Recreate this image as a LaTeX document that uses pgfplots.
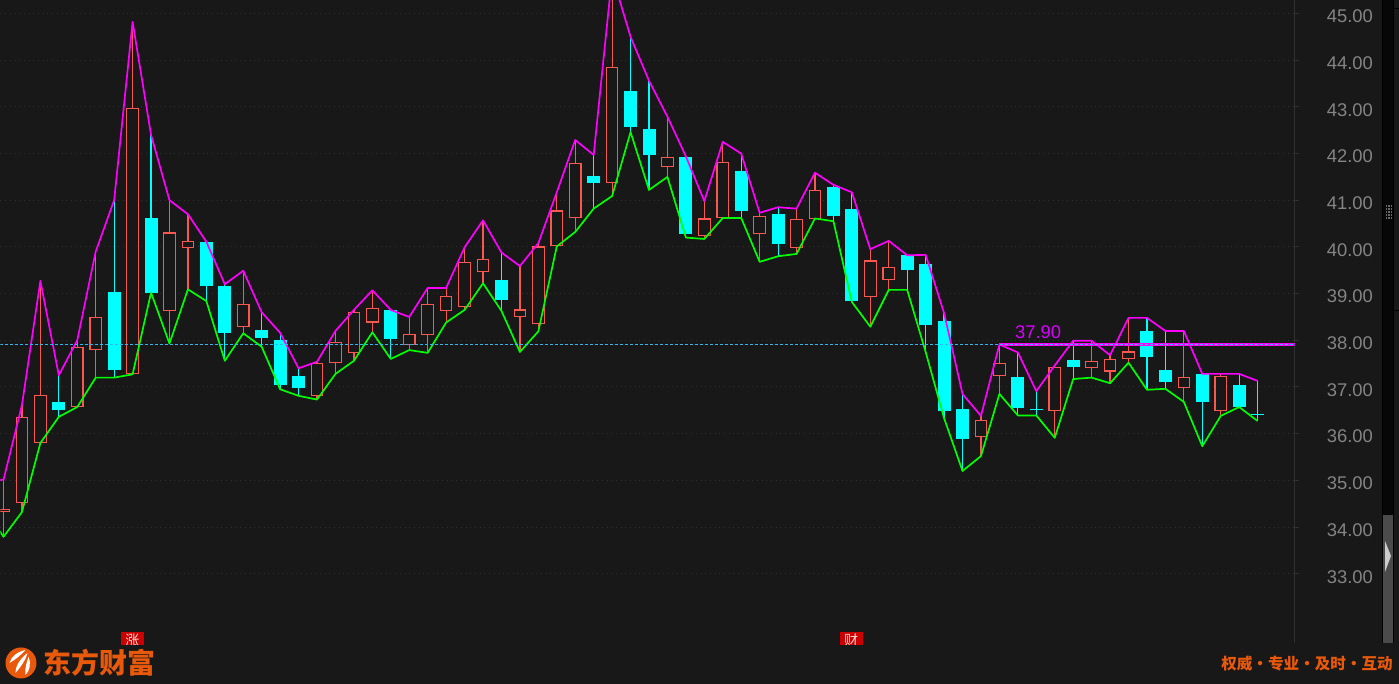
\documentclass[border=0pt]{standalone}
\usepackage{pgfplots}
\usepackage{pgfplotstable}
\usepackage{fontspec}
\pgfplotsset{compat=1.18}
\setmainfont{Liberation Sans}
\newfontfamily\cjk{Noto Sans CJK SC}

\definecolor{bg}{HTML}{181818}
\definecolor{redc}{HTML}{F8584F}
\definecolor{dashc}{HTML}{2FB8F0}
\definecolor{gridc}{HTML}{303030}
\definecolor{labelc}{HTML}{848484}
\definecolor{brand}{HTML}{E9590C}
\definecolor{cyanc}{HTML}{00FFFF}
\definecolor{magc}{HTML}{FF00FF}
\definecolor{greenc}{HTML}{00FF00}

% i, high, low, body top, body bottom, up (1 = hollow red, 0 = filled cyan, 2 = lines only)
\pgfplotstableread{
i high low top bot up
-1 35.00 34.40 0 0 2
0 35.01 33.79 34.39 34.32 1
1 36.61 34.32 36.36 34.51 1
2 39.27 35.80 36.83 35.80 1
3 37.25 36.36 36.68 36.50 0
4 38.00 36.57 37.85 36.56 1
5 39.90 37.20 38.49 37.80 1
6 41.00 37.20 39.03 37.37 0
7 44.82 37.27 42.97 37.27 1
8 42.40 39.02 40.62 39.02 0
9 41.00 37.93 40.31 38.62 1
10 40.70 39.09 40.12 39.97 1
11 40.11 38.84 40.10 39.17 0
12 39.20 37.56 39.16 38.16 0
13 39.49 38.15 38.77 38.28 1
14 38.60 37.86 38.22 38.05 0
15 38.16 36.95 38.00 37.04 0
16 37.40 36.81 37.23 36.98 0
17 37.54 36.73 37.51 36.81 1
18 38.20 37.28 37.96 37.51 1
19 38.65 37.56 38.60 37.72 1
20 39.07 38.17 38.70 38.38 1
21 38.65 37.60 38.65 38.03 0
22 38.50 37.79 38.13 37.89 1
23 39.12 37.73 38.77 38.12 1
24 39.12 38.38 38.94 38.63 1
25 39.99 38.65 39.67 38.72 1
26 40.57 39.22 39.75 39.47 1
27 39.88 38.63 39.29 38.86 0
28 39.59 37.75 38.66 38.50 1
29 40.08 38.19 40.01 38.34 1
30 41.17 40.01 40.78 40.01 1
31 42.29 40.32 41.79 40.61 1
32 41.97 40.82 41.52 41.37 0
33 45.82 41.09 43.86 41.36 1
34 44.50 42.46 43.34 42.57 0
35 43.56 41.22 42.52 41.97 0
36 42.79 41.50 41.92 41.72 1
37 41.94 40.20 41.92 40.28 0
38 40.98 40.17 40.61 40.24 1
39 42.25 40.62 41.81 40.61 1
40 42.00 40.62 41.62 40.77 0
41 40.73 39.68 40.67 40.27 1
42 40.85 39.80 40.70 40.07 0
43 40.82 39.85 40.59 39.98 1
44 41.59 40.61 41.21 40.60 1
45 41.33 40.55 41.28 40.66 0
46 41.17 38.82 40.81 38.85 0
47 39.95 38.29 39.71 38.93 1
48 40.13 39.08 39.58 39.30 1
49 39.82 39.08 39.82 39.51 0
50 39.83 37.75 39.63 38.33 0
51 38.58 36.33 38.41 36.49 0
52 36.85 35.20 36.53 35.89 0
53 36.38 35.52 36.29 35.92 1
54 37.91 36.85 37.51 37.23 1
55 37.74 36.39 37.21 36.55 0
56 36.91 36.39 36.52 36.50 0
57 37.46 35.91 37.42 36.49 1
58 37.99 37.17 37.58 37.43 0
59 37.99 37.20 37.55 37.41 1
60 37.68 37.08 37.59 37.33 1
61 38.48 37.52 37.76 37.60 1
62 38.48 36.94 38.20 37.65 0
63 38.20 36.96 37.36 37.11 0
64 38.20 36.68 37.21 36.98 1
65 37.28 35.73 37.28 36.68 0
66 37.28 36.38 37.23 36.48 1
67 37.28 36.57 37.04 36.57 0
68 37.13 36.27 36.42 36.40 0
}\kline

\pgfplotsset{
  errbar/.style 2 args={draw=none, mark=none, forget plot,
    error bars/.cd, y dir=plus, y explicit, error mark=none,
    error bar style={draw=#1, line width=#2, solid}},
}

\begin{document}
\begin{tikzpicture}
\begin{scope}[x=1pt,y=-1pt,yshift=684pt]
  \fill[bg] (0,0) rectangle (1399,684);
  \useasboundingbox (0,0) rectangle (1399,684);
\end{scope}

\begin{axis}[
    at={(0pt,41pt)}, anchor=south west,
    scale only axis, width=1294.5pt, height=643pt,
    xmin=-0.1626, xmax=70.0,
    ymin=31.516, ymax=45.285,
    axis x line=none,
    axis y line*=right,
    axis line style={draw=gridc, -},
    xtick=\empty,
    ytick={33,34,35,36,37,38,39,40,41,42,43,44,45},
    ymajorgrids,
    major grid style={draw=gridc, line width=1pt, dash pattern=on 1pt off 3.7pt},
    tick align=outside, major tick length=4pt,
    tick style={draw=gridc, line width=1pt},
    yticklabel style={anchor=east, xshift=78pt, yshift=-3pt, text=labelc,
      font=\fontsize{18.4}{22}\selectfont},
    /pgf/number format/.cd, fixed, fixed zerofill, precision=2, assume math mode=true,
  ]

% wicks
\addplot[errbar={redc}{1.2pt}] table[x=i, y expr={\thisrow{up}==1 ? \thisrow{low} : nan},
    y error plus expr=\thisrow{high}-\thisrow{low}] {\kline};
\addplot[errbar={cyanc}{1.2pt}] table[x=i, y expr={\thisrow{up}==0 ? \thisrow{low} : nan},
    y error plus expr=\thisrow{high}-\thisrow{low}] {\kline};

% bodies: hollow ones are a red bar with a background bar inside it
\addplot[errbar={redc}{12.6pt}] table[x=i, y expr={\thisrow{up}==1 ? \thisrow{bot} : nan},
    y error plus expr=\thisrow{top}-\thisrow{bot}] {\kline};
\addplot[errbar={bg}{10.4pt}] table[x=i, y expr={\thisrow{up}==1 ? \thisrow{bot}+0.023 : nan},
    y error plus expr=\thisrow{top}-\thisrow{bot}-0.046] {\kline};
\addplot[errbar={cyanc}{13pt}] table[x=i, y expr={\thisrow{up}==0 ? \thisrow{bot} : nan},
    y error plus expr=\thisrow{top}-\thisrow{bot}] {\kline};

% channel lines
\addplot[draw=magc, line width=1.7pt, mark=none, line join=round, forget plot]
    table[x=i, y=high] {\kline};
\addplot[draw=greenc, line width=1.7pt, mark=none, line join=round, forget plot]
    table[x=i, y=low] {\kline};

% 37.90 level
\addplot[draw=magc, line width=3pt, mark=none] coordinates {(54,37.90) (70,37.90)};
\addplot[draw=dashc, line width=1pt, dash pattern=on 3pt off 2pt, mark=none]
    coordinates {(-0.1626,37.90) (70,37.90)};

\node[text=magc!85!blue, font=\fontsize{18.4}{22}\selectfont, anchor=south]
    at (axis cs:56.1,37.95) {37.90};
\end{axis}

\begin{scope}[x=1pt,y=-1pt,yshift=684pt]
  % event badges cut off by the footer
  \begin{scope}
    \clip (0,632) rectangle (1399,644.5);
    \fill[red!80!black] (121,632) rectangle (143.5,646);
    \fill[red!80!black] (840,632) rectangle (862.5,646);
    \node[text=white!85!red, font=\cjk\fontsize{14}{16}\selectfont] at (132,640) {涨};
    \node[text=white!85!red, font=\cjk\fontsize{14}{16}\selectfont] at (851,640) {财};
  \end{scope}
  % scrollbar strip
  \fill[black!70!bg] (1382,0) rectangle (1394,643);
  \fill[black] (1382,0) rectangle (1383,643);
  \fill[black] (1393,0) rectangle (1394,643);
  \fill[black] (1394,8) rectangle (1399,9);
  \fill[black] (1394,310) rectangle (1399,311);
  \fill[white!22!bg] (1383,515) rectangle (1393,643);
  \fill[white!80!black] (1385,541) -- (1391,556) -- (1385,572) -- cycle;
  \foreach \gy in {205,208,211,214,217}
    \foreach \gx in {1385.5,1388,1390.5}
      \fill[white!35!bg] (\gx,\gy) rectangle +(1.5,1.5);
  % footer
  \fill[brand] (20.5,663) circle (15.5);
  \fill[white] (25,650) .. controls (17,652) and (11,656) .. (9,663)
      .. controls (14,660) and (20,656) .. cycle;
  \fill[white] (27,653) .. controls (22,657) and (15,664) .. (15,673)
      .. controls (20,667) and (25,661) .. cycle;
  \fill[white] (28,657) .. controls (26,663) and (24,669) .. (25,675)
      .. controls (29,671) and (31,664) .. cycle;
  \node[text=brand, font=\cjk\bfseries\fontsize{28}{30}\selectfont, anchor=center]
      at (99,663) {东方财富};
  \node[text=brand, font=\cjk\bfseries\fontsize{15.6}{18}\selectfont, anchor=east, inner sep=0pt]
      at (1393,664) {权威\hspace{0pt}·\hspace{0pt}专业\hspace{0pt}·\hspace{0pt}及时\hspace{0pt}·\hspace{0pt}互动};
\end{scope}
\end{tikzpicture}
\end{document}
